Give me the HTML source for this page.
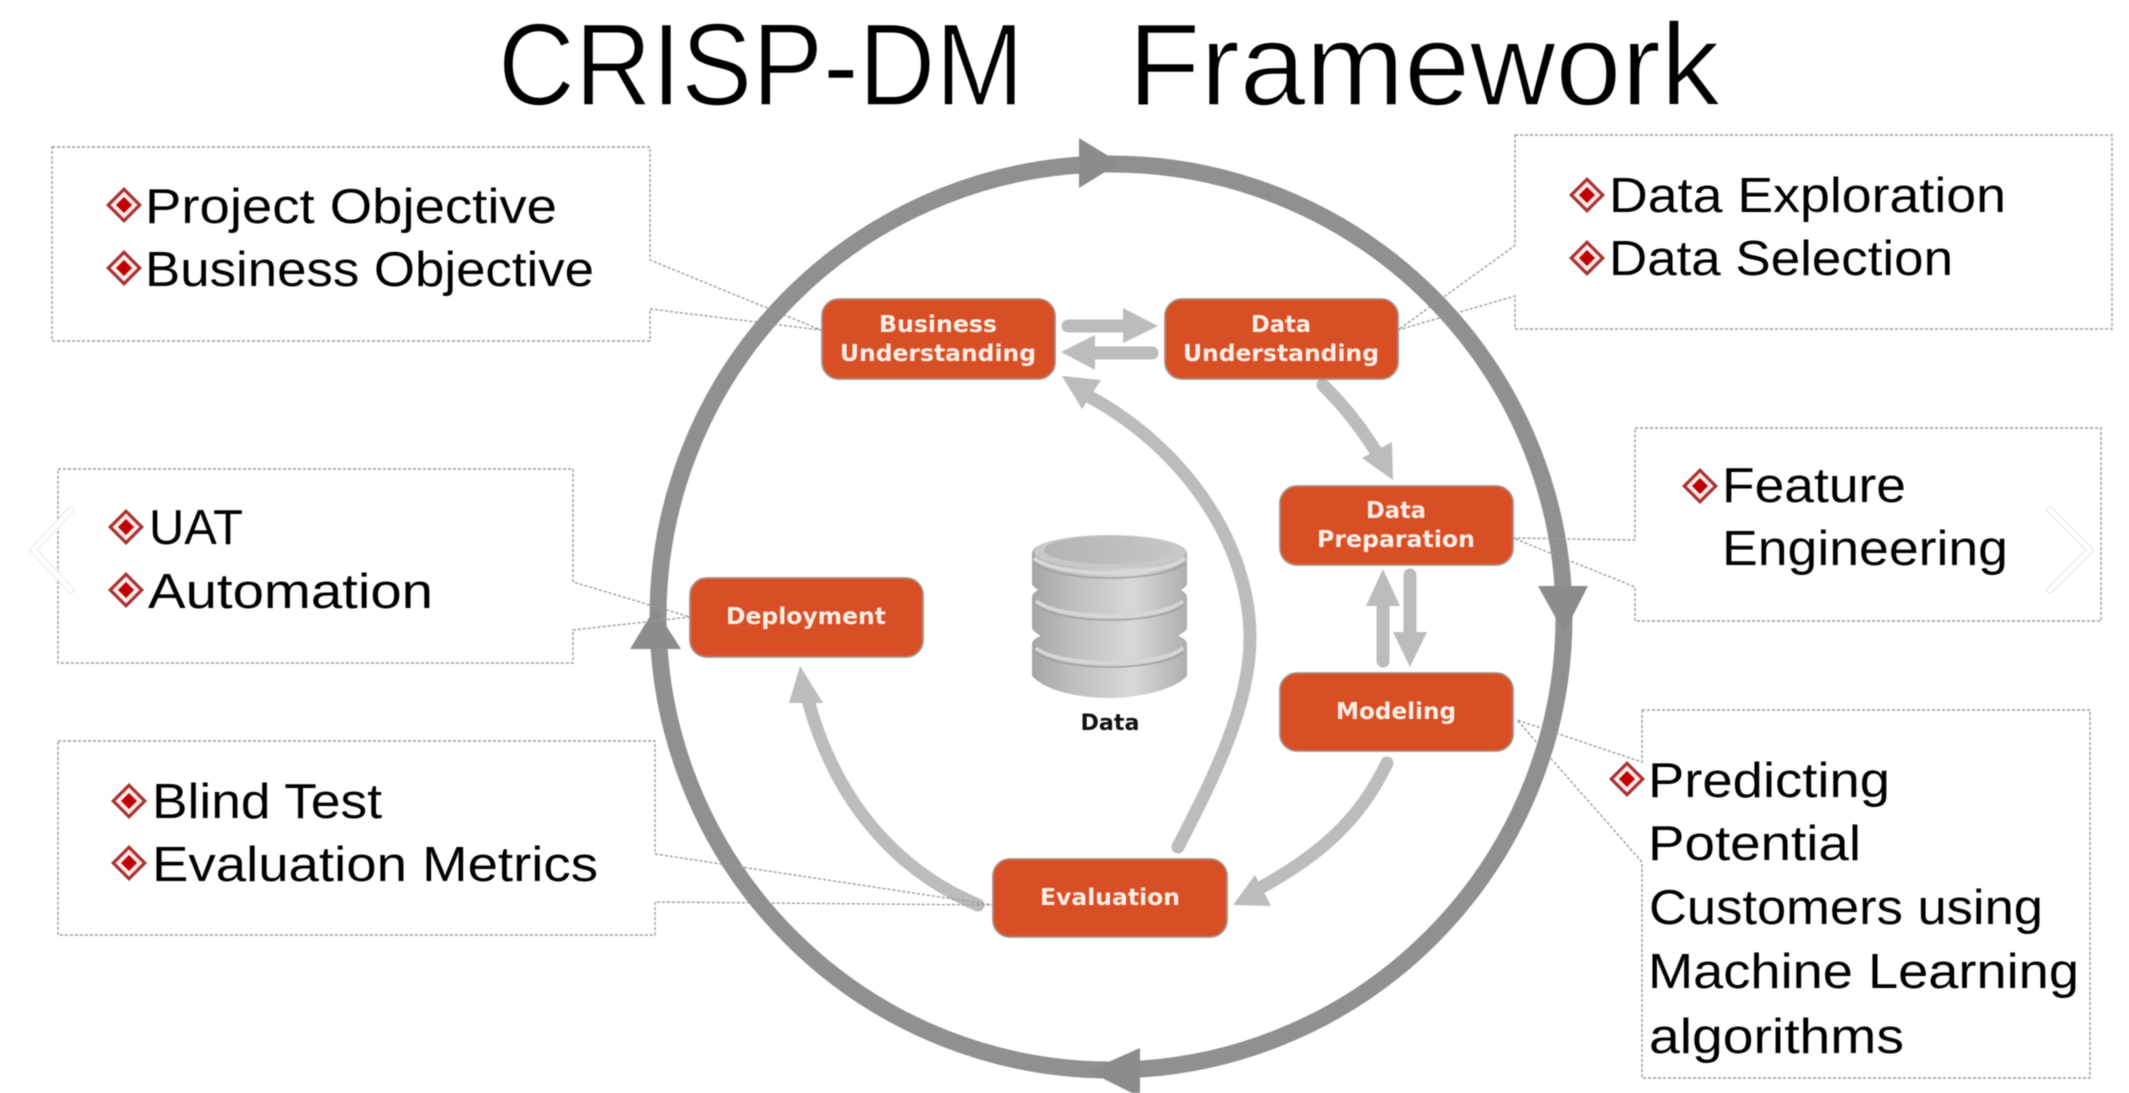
<!DOCTYPE html>
<html><head><meta charset="utf-8"><style>
html,body{margin:0;padding:0;background:#fff;width:2129px;height:1093px;overflow:hidden}
svg{display:block;filter:blur(.45px)}
.t{font-family:"Liberation Sans",sans-serif;font-size:49px;fill:#000}
.h{font-family:"Liberation Sans",sans-serif;font-size:117px;fill:#000;stroke:#fff;stroke-width:1.6px}
.n{font-family:"DejaVu Sans",sans-serif;font-size:23px;font-weight:bold;fill:#fbeee6;text-anchor:middle}
.box{fill:none;stroke:#9a9a9a;stroke-width:1.4;stroke-dasharray:3 2}
.a{fill:none;stroke:#bcbcbc;stroke-width:13;stroke-linecap:round}
.node{fill:#d84f26;stroke:#ab8e80;stroke-width:1.8}
</style></head><body>
<svg width="2129" height="1093" viewBox="0 0 2129 1093" xmlns="http://www.w3.org/2000/svg">
<defs>
<linearGradient id="g" x1="0" x2="1" y1="0" y2="0"><stop offset="0" stop-color="#a6a6a8"/><stop offset=".25" stop-color="#bdbdbf"/><stop offset=".65" stop-color="#d8d8da"/><stop offset="1" stop-color="#aeaeb0"/></linearGradient>
<linearGradient id="g2" x1="0" x2="1" y1="0" y2="0"><stop offset="0" stop-color="#b4b4b6"/><stop offset="1" stop-color="#c6c6c8"/></linearGradient>
<g id="d"><path d="M0,-18 L18,0 L0,18 L-18,0 Z" fill="#a83232"/><path d="M0,-13.5 L13.5,0 L0,13.5 L-13.5,0 Z" fill="#fbe9e9"/><path d="M0,-8 L8,0 L0,8 L-8,0 Z" fill="#c00000"/></g>
<g id="cyl"><path d="M0,0 A77.5,18 0 0 1 155,0 L155,32 C140,48 100,54 77,54 C50,54 15,48 0,32 Z" fill="url(#g)"/></g>
</defs>

<!-- title -->
<text class="h" x="498" y="105" textLength="526" lengthAdjust="spacingAndGlyphs">CRISP-DM</text>
<text class="h" x="1128" y="105" textLength="592" lengthAdjust="spacingAndGlyphs">Framework</text>

<!-- outer ring -->
<circle cx="1111" cy="617" r="453" fill="none" stroke="#909090" stroke-width="17"/>
<path d="M1079,138 L1120,163 L1079,188 Z" fill="#8c8c8c"/>
<path d="M1538,586 H1588 L1564,633 Z" fill="#8c8c8c"/>
<path d="M1140,1048 L1088,1071 L1140,1097 Z" fill="#8c8c8c"/>
<path d="M630,649 H681 L655,608 Z" fill="#8c8c8c"/>

<!-- inner arrows -->
<path d="M1068,326 H1125" class="a"/>
<path d="M1123,308 L1158,326 L1123,343 Z" fill="#bcbcbc"/>
<path d="M1152,353 H1094" class="a"/>
<path d="M1095,335 L1061,352 L1095,370 Z" fill="#bcbcbc"/>
<path d="M1323,385 C1340,402 1360,425 1378,455" class="a"/>
<path d="M1362,458 L1392,442 L1393,480 Z" fill="#bcbcbc"/>
<path d="M1383,600 V661" class="a"/>
<path d="M1366,606 H1400 L1383,569 Z" fill="#bcbcbc"/>
<path d="M1410,575 V640" class="a"/>
<path d="M1393,632 H1427 L1410,667 Z" fill="#bcbcbc"/>
<path d="M1387,763 C1360,820 1320,855 1260,888" class="a"/>
<path d="M1255,875 L1271,906 L1233,905 Z" fill="#bcbcbc"/>
<path d="M1178,847 C1215,775 1250,705 1250,638 C1250,540 1180,445 1088,396" class="a"/>
<path d="M1101,380 L1082,409 L1062,376 Z" fill="#bcbcbc"/>
<path d="M978,905 C895,870 835,800 808,700" class="a"/>
<path d="M789,703 H823 L800,666 Z" fill="#bcbcbc"/>

<!-- callouts -->
<path class="box" d="M52,147 H650 V260 L821,330 L650,309 V341 H52 Z"/>
<path class="box" d="M1515,135 H2112 V329 H1515 V296 L1398,330 L1515,245.5 Z"/>
<path class="box" d="M1635,428 H2101 V621 H1635 V587 L1513,538 L1635,540 Z"/>
<path class="box" d="M58,469 H573 V582 L690,617 L573,630 V663 H58 Z"/>
<path class="box" d="M1642,710 H2090 V1078 H1642 V862 L1517,720 L1642,762 Z"/>
<path class="box" d="M58,741 H655 V854 L993,905 L655,902 V935 H58 Z"/>

<!-- nodes -->
<rect class="node" x="822" y="299" width="233" height="80" rx="17"/>
<rect class="node" x="1165" y="299" width="233" height="80" rx="17"/>
<rect class="node" x="1280" y="486" width="233" height="79" rx="17"/>
<rect class="node" x="1280" y="673" width="233" height="78" rx="17"/>
<rect class="node" x="993" y="859" width="234" height="78" rx="17"/>
<rect class="node" x="690" y="578" width="233" height="79" rx="17"/>
<text class="n" x="938" y="332" textLength="118" lengthAdjust="spacingAndGlyphs">Business</text>
<text class="n" x="938" y="361" textLength="196" lengthAdjust="spacingAndGlyphs">Understanding</text>
<text class="n" x="1281" y="332" textLength="60" lengthAdjust="spacingAndGlyphs">Data</text>
<text class="n" x="1281" y="361" textLength="196" lengthAdjust="spacingAndGlyphs">Understanding</text>
<text class="n" x="1396" y="518" textLength="60" lengthAdjust="spacingAndGlyphs">Data</text>
<text class="n" x="1396" y="547" textLength="158" lengthAdjust="spacingAndGlyphs">Preparation</text>
<text class="n" x="1396" y="719" textLength="120" lengthAdjust="spacingAndGlyphs">Modeling</text>
<text class="n" x="1110" y="905" textLength="140" lengthAdjust="spacingAndGlyphs">Evaluation</text>
<text class="n" x="806" y="624" textLength="160" lengthAdjust="spacingAndGlyphs">Deployment</text>

<!-- database -->
<use href="#cyl" x="1032" y="644"/>
<path d="M1036,648 C1060,668 1160,668 1183,648" fill="none" stroke="#d6d6d8" stroke-width="4"/>
<path d="M1036,652 C1060,672 1160,672 1183,652" fill="none" stroke="#a0a0a2" stroke-width="1.5"/>
<use href="#cyl" x="1032" y="597"/>
<path d="M1036,601 C1060,621 1160,621 1183,601" fill="none" stroke="#d6d6d8" stroke-width="4"/>
<path d="M1036,605 C1060,625 1160,625 1183,605" fill="none" stroke="#a0a0a2" stroke-width="1.5"/>
<use href="#cyl" x="1032" y="553"/>
<ellipse cx="1110" cy="552" rx="76" ry="17" fill="#c8c8ca"/>
<ellipse cx="1110" cy="550" rx="66" ry="14" fill="url(#g2)"/>
<path d="M1034,558 C1058,578 1162,578 1185,558" fill="none" stroke="#d8d8da" stroke-width="4"/>
<path d="M1034,563 C1058,583 1162,583 1185,563" fill="none" stroke="#a0a0a2" stroke-width="1.5"/>
<text x="1110" y="730" font-family="'DejaVu Sans',sans-serif" font-size="22" font-weight="bold" fill="#111" text-anchor="middle" textLength="59" lengthAdjust="spacingAndGlyphs">Data</text>

<!-- bullets -->
<use href="#d" x="124" y="205"/><use href="#d" x="124" y="268"/>
<use href="#d" x="1587" y="195"/><use href="#d" x="1587" y="258"/>
<use href="#d" x="1700" y="486"/>
<use href="#d" x="126" y="527"/><use href="#d" x="126" y="590"/>
<use href="#d" x="129" y="801"/><use href="#d" x="129" y="863"/>
<use href="#d" x="1627" y="779"/>

<!-- labels -->
<text class="t" x="145" y="223" textLength="412" lengthAdjust="spacingAndGlyphs">Project Objective</text>
<text class="t" x="145" y="286" textLength="449" lengthAdjust="spacingAndGlyphs">Business Objective</text>
<text class="t" x="1609" y="212" textLength="397" lengthAdjust="spacingAndGlyphs">Data Exploration</text>
<text class="t" x="1609" y="275" textLength="344" lengthAdjust="spacingAndGlyphs">Data Selection</text>
<text class="t" x="1722" y="502" textLength="184" lengthAdjust="spacingAndGlyphs">Feature</text>
<text class="t" x="1722" y="565" textLength="286" lengthAdjust="spacingAndGlyphs">Engineering</text>
<text class="t" x="149" y="544" textLength="94" lengthAdjust="spacingAndGlyphs">UAT</text>
<text class="t" x="148" y="608" textLength="285" lengthAdjust="spacingAndGlyphs">Automation</text>
<text class="t" x="152" y="818" textLength="230" lengthAdjust="spacingAndGlyphs">Blind Test</text>
<text class="t" x="152" y="881" textLength="446" lengthAdjust="spacingAndGlyphs">Evaluation Metrics</text>
<text class="t" x="1648" y="797" textLength="242" lengthAdjust="spacingAndGlyphs">Predicting</text>
<text class="t" x="1648" y="860" textLength="213" lengthAdjust="spacingAndGlyphs">Potential</text>
<text class="t" x="1649" y="924" textLength="394" lengthAdjust="spacingAndGlyphs">Customers using</text>
<text class="t" x="1648" y="988" textLength="431" lengthAdjust="spacingAndGlyphs">Machine Learning</text>
<text class="t" x="1649" y="1053" textLength="255" lengthAdjust="spacingAndGlyphs">algorithms</text>

<!-- carousel chevrons -->
<path d="M71,510 L33,550 L71,590" fill="none" stroke="#e4e4e4" stroke-width="7" stroke-linecap="round" stroke-linejoin="round"/>
<path d="M71,510 L33,550 L71,590" fill="none" stroke="#fff" stroke-width="5" stroke-linecap="round" stroke-linejoin="round"/>
<path d="M2050,510 L2090,550 L2050,590" fill="none" stroke="#e4e4e4" stroke-width="7" stroke-linecap="round" stroke-linejoin="round"/>
<path d="M2050,510 L2090,550 L2050,590" fill="none" stroke="#fff" stroke-width="5" stroke-linecap="round" stroke-linejoin="round"/>
</svg>
</body></html>
